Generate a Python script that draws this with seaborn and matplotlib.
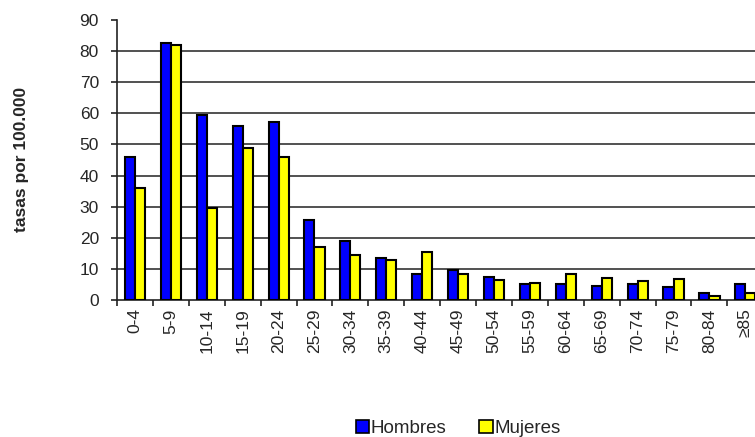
import pandas as pd
import seaborn as sns
import matplotlib.pyplot as plt
from matplotlib.patches import Patch

# ---- data ----
grupos = ['0-4', '5-9', '10-14', '15-19', '20-24', '25-29', '30-34', '35-39',
          '40-44', '45-49', '50-54', '55-59', '60-64', '65-69', '70-74',
          '75-79', '80-84', '≥85']
hombres = [46, 82.5, 59.3, 55.9, 57.2, 25.8, 19, 13.4, 8.2, 9.6, 7.3, 5.2,
           5.2, 4.6, 5.2, 4.1, 2.1, 5.1]
mujeres = [36, 82, 29.5, 48.8, 45.8, 17, 14.3, 12.8, 15.4, 8.4, 6.4, 5.5,
           8.2, 7.2, 6.0, 6.7, 1.4, 2.4]
series = ['Hombres', 'Mujeres']
colores = ['#0000ff', '#ffff00']

df = pd.DataFrame({
    'grupo': grupos * 2,
    'sexo': [series[0]] * len(grupos) + [series[1]] * len(grupos),
    'tasa': hombres + mujeres,
})

sns.set_style('white')
plt.rcParams['font.family'] = ['Liberation Sans', 'DejaVu Sans']

fig = plt.figure(figsize=(7.55, 4.37), dpi=100)
# plot area runs a little past the right edge, like the reference
ax = fig.add_axes([0.155, 0.3135, 0.856, 0.641])

sns.barplot(data=df, x='grupo', y='tasa', hue='sexo', order=grupos,
            hue_order=series, palette=colores, width=0.56, gap=0,
            edgecolor='black', linewidth=1.5, saturation=1, ax=ax,
            legend=False, zorder=3)

ax.set_ylim(0, 90)
ax.set_yticks(range(0, 91, 10))
ax.set_xlim(-0.5, 17.5)
for y in range(10, 81, 10):
    ax.axhline(y, color='#333333', linewidth=1.2, zorder=1)

for s in ['top', 'right']:
    ax.spines[s].set_visible(False)
for s in ['left', 'bottom']:
    ax.spines[s].set_color('#222222')
    ax.spines[s].set_linewidth(1.2)

ax.set_xlabel('')
ax.set_ylabel('')
ax.tick_params(axis='y', direction='out', length=4.5, width=1.2,
               color='#222222', labelsize=12.5, left=True, pad=8.5)
ax.tick_params(axis='x', which='major', length=0, labelsize=12.5,
               labelrotation=90, pad=6)
ax.set_xticks([i + 0.5 for i in range(-1, len(grupos))], minor=True)
ax.tick_params(axis='x', which='minor', direction='out', length=4.5,
               width=1.2, color='#222222', bottom=True)

fig.text(0.029, 0.636, 'tasas por 100.000', rotation=90, ha='center',
         va='center', fontsize=12.5, fontweight='bold')

handles = [Patch(facecolor=c, edgecolor='black', linewidth=1.2) for c in colores]
fig.legend(handles, series, loc='center', bbox_to_anchor=(0.607, 0.02), ncol=2,
           frameon=False, fontsize=13.5, handlelength=0.7, handleheight=0.7,
           handletextpad=0.1, columnspacing=1.75, borderpad=0)

fig.savefig('out.png', dpi=100)
